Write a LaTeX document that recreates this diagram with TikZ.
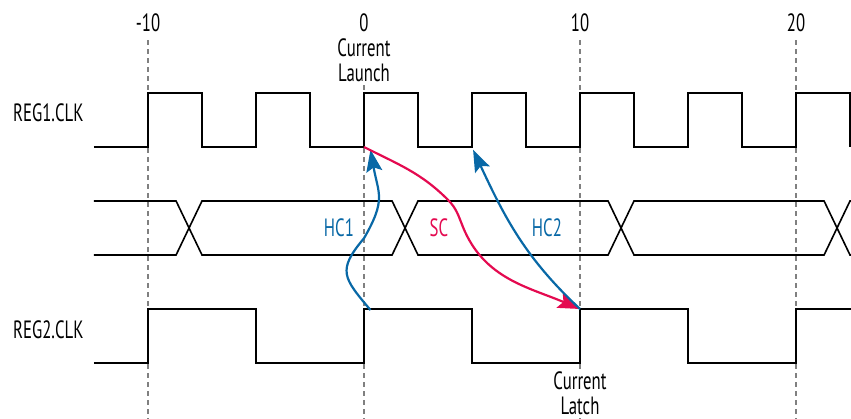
\documentclass[tikz,border=0pt]{standalone}
\usepackage{fontspec}
\setmainfont{PT Sans}[FakeStretch=0.67]
\usetikzlibrary{arrows.meta, positioning}
\definecolor{hcblue}{RGB}{8,104,166}
\definecolor{scred}{RGB}{228,10,80}

\begin{document}
\begin{tikzpicture}[x=21.6pt, y=54pt, >={Stealth[length=22pt,width=16pt,inset=4pt]},
  wave/.style={line width=1.6pt, line join=miter},
  gridline/.style={draw=gray, line width=1.1pt, dash pattern=on 5pt off 4pt},
  lbl/.style={font=\fontsize{25}{25}\selectfont, inner sep=1pt, align=center},
  hcpath/.style={->, line width=2.2pt, draw=hcblue},
  scpath/.style={->, line width=2.2pt, draw=scred}]
  \useasboundingbox (-16.852,-1.037) rectangle (22.546,6.722);

  % time marks
  \foreach \t in {-10,0,10,20} {
    \draw[gridline] (\t,5.98) -- (\t,-1.1);
    \node[lbl] (mark\t) at (\t,6.3) {\t};
  }

  % REG1.CLK
  \draw[wave] (-12.5,4) foreach \t in {-10,-5,...,20} { -- (\t,4) -- (\t,5) -- (\t+2.5,5) -- (\t+2.5,4) };
  % data
  \draw[wave] (-12.5,3) -- (-8.7,3) -- (-8.1,2.5) -- (-8.7,2) -- (-12.5,2);
  \foreach \a/\b in {-8.1/1.9, 1.9/11.9, 11.9/21.9}
    \draw[wave] (\a,2.5) -- (\a+0.6,3) -- (\b-0.6,3) -- (\b,2.5) -- (\b-0.6,2) -- (\a+0.6,2) -- cycle;
  \draw[wave] (22.7,3) -- (22.5,3) -- (21.9,2.5) -- (22.5,2) -- (22.7,2);
  % REG2.CLK
  \draw[wave] (-12.5,0) foreach \t in {-10,0,10} { -- (\t,0) -- (\t,1) -- (\t+5,1) -- (\t+5,0) } -- (20,0) -- (20,1) -- (22.7,1);

  \node[lbl, anchor=west] (reg1) at (-16.3,4.63) {REG1.CLK};
  \node[lbl, anchor=west] (reg2) at (-16.3,0.61) {REG2.CLK};
  \node[lbl, fill=white] (launchlbl) at (0,5.6) {Current\\Launch};
  \node[lbl, fill=white] (latchlbl) at (10,-0.56) {Current\\Latch};

  \coordinate (launch) at (0,4);
  \coordinate (latch) at (10,1);
  \coordinate (nextrise) at (5.05,3.95);
  \coordinate (reg2rise) at (0.3,0.98);
  \coordinate (hc1tip) at (0.3,3.95);

  \node[lbl, text=hcblue] (hc1) at (-1.16,2.5) {HC1};
  \node[lbl, text=scred] (sc) at (3.47,2.5) {SC};
  \node[lbl, text=hcblue] (hc2) at (8.47,2.5) {HC2};

  \draw[hcpath] (reg2rise) to[out=130,in=-130,looseness=1.5] (0,2.31) to[out=60,in=-80,looseness=1.3] (hc1tip);
  \draw[scpath] (launch) to[out=-27,in=135] (3.89,3.02) to[out=-45,in=112] (4.58,2.52) to[out=-68,in=157] (latch);
  \draw[hcpath] (latch) to[out=137,in=-65] (nextrise);
\end{tikzpicture}
\end{document}
